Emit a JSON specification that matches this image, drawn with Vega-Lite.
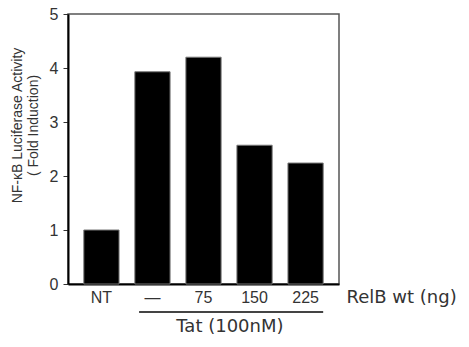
{
  "$schema": "https://vega.github.io/schema/vega-lite/v6.json",
  "autosize": "none",
  "padding": {"left": 68, "top": 14, "right": 130, "bottom": 63},
  "width": 271,
  "height": 270,
  "background": "white",
  "config": {
    "view": {"stroke": "#555", "strokeWidth": 1.5},
    "font": "Liberation Sans"
  },
  "datasets": {
    "bars": [
      {"treatment": "NT", "fold": 1.0},
      {"treatment": "—", "fold": 3.93},
      {"treatment": "75", "fold": 4.2},
      {"treatment": "150", "fold": 2.57},
      {"treatment": "225", "fold": 2.24}
    ],
    "groups": [
      {"group": "Tat (100nM)", "start": "—", "end": "225", "mid": "150"}
    ]
  },
  "layer": [
    {
      "data": {"name": "bars"},
      "mark": {"type": "bar", "color": "#000", "stroke": "#777", "strokeWidth": 1},
      "encoding": {
        "x": {
          "field": "treatment",
          "type": "nominal",
          "sort": null,
          "scale": {"domain": ["NT", "—", "75", "150", "225"], "paddingInner": 0.31, "paddingOuter": 0.31},
          "axis": {
            "title": "RelB wt (ng)",
            "labelAngle": 0,
            "labelFont": "Liberation Sans",
            "labelFontSize": 16,
            "labelColor": "#333",
            "labelPadding": 5,
            "ticks": false,
            "domainColor": "#000",
            "domainWidth": 2,
            "titleFont": "DejaVu Sans",
            "titleFontSize": 18,
            "titleFontWeight": "normal",
            "titleColor": "#333",
            "titleAnchor": "start",
            "titleAlign": "left",
            "titleBaseline": "middle",
            "titleX": 278,
            "titleY": 13
          }
        },
        "y": {
          "field": "fold",
          "type": "quantitative",
          "scale": {"domain": [0, 5], "nice": false},
          "axis": {
            "title": ["NF-κB Luciferase Activity", "( Fold Induction)"],
            "values": [0, 1, 2, 3, 4, 5],
            "grid": false,
            "tickSize": 5,
            "tickColor": "#333",
            "tickWidth": 1,
            "domainColor": "#000",
            "domainWidth": 2,
            "labelFont": "Liberation Sans",
            "labelFontSize": 16,
            "labelColor": "#333",
            "labelPadding": 5,
            "titleFont": "Liberation Sans",
            "titleFontSize": 14,
            "titleFontWeight": "normal",
            "titleColor": "#333",
            "titleLineHeight": 16,
            "titleAnchor": null,
            "titleAlign": "center",
            "titleBaseline": "bottom",
            "titleX": -44,
            "titleY": 111
          }
        }
      }
    },
    {
      "data": {"name": "groups"},
      "mark": {"type": "rule", "color": "#444", "strokeWidth": 2},
      "encoding": {
        "x": {"field": "start", "type": "nominal", "bandPosition": 0.12},
        "x2": {"field": "end", "bandPosition": 1},
        "y": {"datum": -0.52, "type": "quantitative"}
      }
    },
    {
      "data": {"name": "groups"},
      "mark": {"type": "text", "font": "DejaVu Sans", "fontSize": 18, "color": "#333", "baseline": "middle", "align": "center", "dx": -7},
      "encoding": {
        "x": {"field": "mid", "type": "nominal", "bandPosition": 0},
        "y": {"datum": -0.8, "type": "quantitative"},
        "text": {"field": "group"}
      }
    }
  ]
}
